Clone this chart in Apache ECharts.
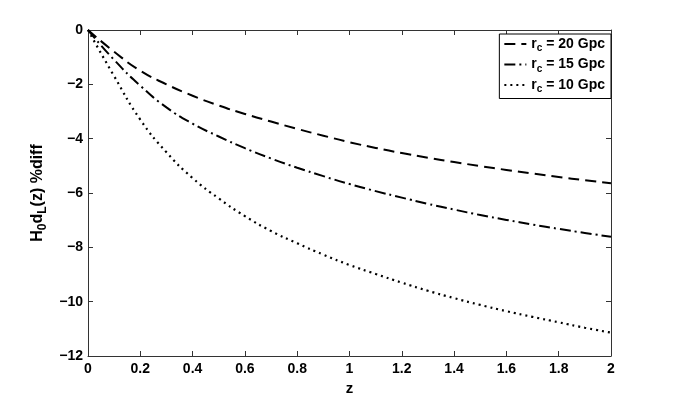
<!DOCTYPE html>
<html>
<head>
<meta charset="utf-8">
<script src="https://cdn.jsdelivr.net/npm/echarts@6/dist/echarts.min.js"></script>
<style>
html,body{margin:0;padding:0;background:#fff;}
#chart{width:675px;height:401px;}
</style>
</head>
<body>
<div id="chart"></div>
<script>
const zValues = [0,0.1,0.2,0.3,0.4,0.5,0.6,0.7,0.8,0.9,1.0,1.1,1.2,1.3,1.4,1.5,1.6,1.7,1.8,1.9,2.0];
const rc20 = [0,-0.8,-1.5,-2.0,-2.42,-2.78,-3.09,-3.37,-3.64,-3.89,-4.13,-4.34,-4.53,-4.70,-4.86,-5.01,-5.15,-5.28,-5.41,-5.53,-5.64];
const rc15 = [0,-1.1,-2.05,-2.85,-3.45,-3.92,-4.35,-4.73,-5.07,-5.38,-5.67,-5.93,-6.17,-6.40,-6.61,-6.81,-6.99,-7.16,-7.32,-7.47,-7.61];
const rc10 = [0,-1.7,-3.3,-4.5,-5.45,-6.2,-6.85,-7.4,-7.85,-8.27,-8.65,-8.98,-9.3,-9.6,-9.87,-10.12,-10.35,-10.56,-10.76,-10.96,-11.14];
const seriesNames = ['rc20','rc15','rc10'];
const legendLabels = {rc20:'20 Gpc', rc15:'15 Gpc', rc10:'10 Gpc'};
const xTicks = {min:0, max:2, interval:0.2};
const yTicks = {min:-12, max:0, interval:2};

const FONT = '"Liberation Sans", Arial, Helvetica, sans-serif';
const axisColor = '#333';
function pairs(ys){ return zValues.map((z,i)=>[z, ys[i]]); }

const chart = echarts.init(document.getElementById('chart'), null, {renderer:'canvas'});
const baseAxis = {
  axisLine:{show:true, onZero:false, lineStyle:{color:axisColor, width:1}},
  axisTick:{show:true, inside:true, length:5, lineStyle:{color:axisColor}},
  splitLine:{show:false}
};
const option = {
  backgroundColor:'#fff',
  animation:false,
  grid:{left:88, right:64, top:30, bottom:45, containLabel:false},
  xAxis:[
    Object.assign({}, baseAxis, {
      type:'value', min:xTicks.min, max:xTicks.max, interval:xTicks.interval, position:'bottom',
      axisLabel:{color:'#000', fontFamily:FONT, fontWeight:'bold', fontSize:14, margin:6},
      name:'z', nameLocation:'middle', nameGap:25,
      nameTextStyle:{color:'#000', fontFamily:FONT, fontWeight:'bold', fontSize:15}
    }),
    Object.assign({}, baseAxis, {
      type:'value', min:xTicks.min, max:xTicks.max, interval:xTicks.interval, position:'top',
      axisLabel:{show:false}
    })
  ],
  yAxis:[
    Object.assign({}, baseAxis, {
      type:'value', min:yTicks.min, max:yTicks.max, interval:yTicks.interval, position:'left',
      axisLabel:{color:'#000', fontFamily:FONT, fontWeight:'bold', fontSize:14, margin:5,
        formatter:v=>String(v).replace('-','\u2212')},
      name:'{m|H}{s|0}{m|d}{s|L}{m|(z) %diff}', nameLocation:'middle', nameGap:29,
      nameTextStyle:{color:'#000', fontFamily:FONT, fontWeight:'bold', fontSize:15,
        rich:{
          m:{fontFamily:FONT, fontWeight:'bold', fontSize:16, color:'#000'},
          s:{fontFamily:FONT, fontWeight:'bold', fontSize:12, color:'#000', padding:[10,0,0,0]}
        }}
    }),
    Object.assign({}, baseAxis, {
      type:'value', min:yTicks.min, max:yTicks.max, interval:yTicks.interval, position:'right',
      axisLabel:{show:false}
    })
  ],
  legend:{
    show:true, orient:'vertical', right:64, top:34,
    backgroundColor:'#fff', borderColor:'#000', borderWidth:1, borderRadius:0,
    padding:[3,6,4,4], itemGap:4, itemWidth:22, itemHeight:14,
    data:seriesNames,
    itemStyle:{color:'transparent', borderWidth:0, opacity:0},
    formatter:name=>'{m|r}{s|c}{m| = '+legendLabels[name]+'}',
    textStyle:{color:'#000', fontFamily:FONT, fontWeight:'bold', fontSize:14,
      rich:{
        m:{fontFamily:FONT, fontWeight:'bold', fontSize:14, color:'#000'},
        s:{fontFamily:FONT, fontWeight:'bold', fontSize:10, color:'#000', padding:[9,0,0,0]}
      }}
  },
  series:[
    {name:'rc20', type:'line', data:pairs(rc20), smooth:true, showSymbol:false, symbol:'none',
     lineStyle:{color:'#000', width:2, type:[11,6]}, itemStyle:{color:'#000'}},
    {name:'rc15', type:'line', data:pairs(rc15), smooth:true, showSymbol:false, symbol:'none',
     lineStyle:{color:'#000', width:2, type:[11,4,2,4]}, itemStyle:{color:'#000'}},
    {name:'rc10', type:'line', data:pairs(rc10), smooth:true, showSymbol:false, symbol:'none',
     lineStyle:{color:'#000', width:2.2, type:[2,4]}, itemStyle:{color:'#000'}}
  ]
};
chart.setOption(option);
</script>
</body>
</html>
